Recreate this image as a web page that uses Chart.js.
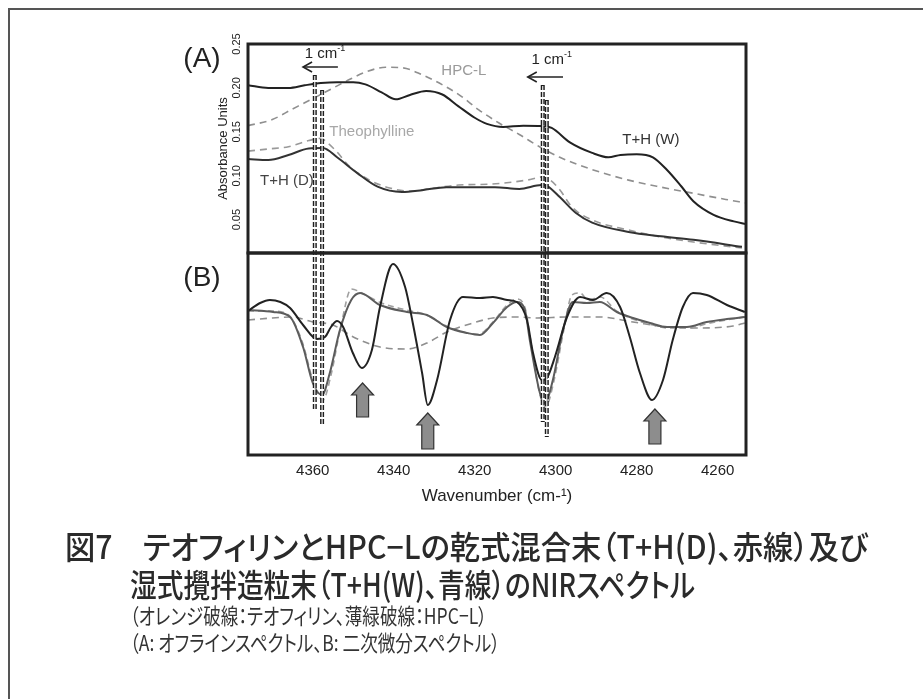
<!DOCTYPE html>
<html lang="ja">
<head>
<meta charset="utf-8">
<title>図7 NIRスペクトル</title>
<script src="https://cdn.jsdelivr.net/npm/chart.js@4.4.1/dist/chart.umd.min.js"></script>
<style>
  html, body { margin: 0; padding: 0; background: #fff; overflow: hidden; }
  #wrap { position: relative; width: 923px; height: 699px; }
  #frame { position: absolute; left: 8px; top: 8px; width: 960px; height: 760px; border: 2px solid #555; }
  #box { position: absolute; left: 0; top: 0; width: 923px; height: 699px; }
  .cap { position: absolute; white-space: nowrap; line-height: 1; color: #2a2a2a;
         font-family: "Noto Sans CJK JP", sans-serif; font-weight: 500;
         font-feature-settings: "palt"; transform-origin: left top; }
  .small { font-weight: 400; color: #333; }
</style>
</head>
<body>
<div id="wrap">
  <div id="frame"></div>
  <div id="box"><canvas id="nir"></canvas></div>
  <div class="cap" id="c1" data-w="803" style="left:65px; top:529px; font-size:32px;">図7　テオフィリンとHPC−Lの乾式混合末（T+H(D)、赤線）及び</div>
  <div class="cap" id="c2" data-w="565" style="left:130px; top:567px; font-size:32px;">湿式攪拌造粒末（T+H(W)、青線）のNIRスペクトル</div>
  <div class="cap small" id="c3" data-w="357" style="left:130px; top:603px; font-size:22px;">（オレンジ破線：テオフィリン、薄緑破線：HPC−L）</div>
  <div class="cap small" id="c4" data-w="370" style="left:130px; top:630px; font-size:22px;">（A: オフラインスペクトル、B: 二次微分スペクトル）</div>
</div>
<script>
'use strict';

// (A) absorbance spectra  [wavenumber, absorbance]
const absTHW = [[4376,0.203],[4371,0.200],[4366,0.200],[4362,0.203],[4358,0.2055],[4354,0.2065],[4350,0.2065],[4347,0.204],[4343,0.195],[4339.5,0.187],[4336,0.192],[4332,0.1965],[4328,0.1925],[4324,0.179],[4320,0.166],[4317,0.159],[4313,0.1555],[4308,0.157],[4303.5,0.1565],[4301,0.1545],[4296.5,0.138],[4291,0.126],[4287,0.121],[4284,0.1236],[4280,0.1245],[4276,0.121],[4272.5,0.1065],[4269,0.088],[4266,0.071],[4261,0.0555],[4256,0.048],[4253,0.045]];
const absTHD = [[4376,0.119],[4371,0.118],[4366,0.1236],[4361,0.131],[4357.5,0.1315],[4354,0.121],[4349,0.103],[4344,0.0875],[4338,0.0815],[4333,0.0835],[4327,0.087],[4321,0.087],[4315,0.087],[4309,0.085],[4303.5,0.0894],[4302,0.088],[4299,0.0757],[4295,0.0575],[4291,0.0465],[4282,0.036],[4274,0.031],[4266,0.027],[4254,0.019]];
const absTheo = [[4376,0.128],[4371,0.1305],[4366,0.133],[4361,0.140],[4358,0.1425],[4356.5,0.138],[4354,0.127],[4351,0.111],[4346,0.095],[4341,0.086],[4336,0.0826],[4330,0.086],[4324,0.0894],[4316,0.0905],[4307,0.0951],[4303.4,0.0985],[4301.4,0.0951],[4299,0.084],[4296,0.0644],[4291,0.0496],[4282,0.0382],[4274,0.0302],[4266,0.0245],[4254,0.0177]];
const absHPC = [[4376,0.157],[4370,0.164],[4365,0.176],[4362,0.183],[4357,0.195],[4352,0.207],[4347,0.218],[4342,0.2235],[4338,0.223],[4333,0.215],[4327,0.201],[4323.5,0.191],[4319,0.175],[4314,0.160],[4309,0.147],[4304,0.133],[4299,0.121],[4291,0.107],[4282,0.095],[4274,0.087],[4266,0.080],[4258,0.073],[4253,0.069]];

// (B) second derivative spectra  [wavenumber, arbitrary units]
const d2THW = [[4376,0.44],[4373,0.52],[4370.6,0.55],[4368,0.53],[4365.6,0.47],[4362.4,0.30],[4359,0.16],[4357,0.18],[4355.5,0.28],[4354,0.34],[4352.5,0.28],[4350.1,0.02],[4347.9,-0.13],[4345.4,0.05],[4343.4,0.48],[4340.2,0.91],[4337.2,0.68],[4335.3,0.32],[4333,-0.18],[4331.6,-0.50],[4329.3,-0.25],[4326.1,0.35],[4322.9,0.58],[4318.7,0.57],[4315.5,0.58],[4312,0.55],[4309.6,0.53],[4307.1,0.35],[4305.6,0.02],[4303.4,-0.25],[4302.2,-0.23],[4300.2,-0.02],[4297.2,0.38],[4294,0.58],[4290.8,0.55],[4287.4,0.62],[4284.1,0.48],[4281.7,0.18],[4279.2,-0.18],[4276.2,-0.45],[4273.5,-0.25],[4271.1,0.15],[4268.6,0.48],[4266.1,0.62],[4262.7,0.60],[4257.7,0.50],[4253.3,0.43]];
const d2THD = [[4376,0.45],[4369.8,0.43],[4365.6,0.38],[4362.4,0.08],[4360,-0.28],[4357.7,-0.40],[4355.8,-0.18],[4353.3,0.25],[4350.5,0.55],[4348.3,0.62],[4343.4,0.50],[4336.7,0.43],[4331.8,0.40],[4326.9,0.28],[4321.9,0.22],[4318.7,0.20],[4315.5,0.32],[4312,0.48],[4309.6,0.53],[4307.6,0.45],[4306.4,0.15],[4303.9,-0.38],[4302.7,-0.48],[4300.7,-0.25],[4298.2,0.25],[4295.8,0.53],[4292.3,0.52],[4289.1,0.53],[4284.9,0.43],[4280.9,0.37],[4276.7,0.32],[4272.5,0.28],[4267.6,0.28],[4262.7,0.33],[4257.7,0.36],[4253.3,0.38]];
const d2Theo = [[4376,0.44],[4370,0.44],[4366,0.40],[4362.5,0.12],[4360,-0.25],[4357.5,-0.45],[4355.5,-0.2],[4353,0.3],[4350.5,0.66],[4347,0.6],[4343,0.52],[4337,0.45],[4332,0.40],[4327,0.29],[4322,0.22],[4319,0.21],[4315.5,0.33],[4312,0.50],[4309.6,0.56],[4307.5,0.46],[4306.2,0.15],[4304,-0.38],[4302.5,-0.52],[4300.5,-0.27],[4298,0.25],[4296,0.6],[4294,0.62],[4292,0.55],[4289,0.58],[4285,0.44],[4281,0.36],[4277,0.31],[4272,0.27],[4267,0.27],[4263,0.31],[4258,0.35],[4253.3,0.38]];
const d2HPC = [[4376,0.35],[4370,0.37],[4365,0.38],[4360,0.33],[4355,0.30],[4350,0.18],[4343.4,0.08],[4336.7,0.06],[4331.8,0.12],[4326.9,0.23],[4320.4,0.32],[4315.5,0.37],[4309.6,0.38],[4304.6,0.37],[4297.2,0.38],[4289.1,0.38],[4280.9,0.33],[4272.5,0.28],[4264.4,0.27],[4256.2,0.29],[4253.3,0.32]];

const xTicks = [4360, 4340, 4320, 4300, 4280, 4260];
const absTicks = [0.05, 0.10, 0.15, 0.20, 0.25];

// peak shift markers: [wavenumber, top (A units), bottom (B units)]
const shiftLines = [[4359.5,0.2147,-0.55],[4357.7,0.1976,-0.70],[4303.2,0.2033,-0.67],[4302.2,0.1862,-0.82]];
// "1 cm-1" notes: [text wn, text abs, arrow tail wn, arrow tip wn, arrow abs]
const shiftNotes = [[4357,0.2386,4353.8,4362.4,0.2238],[4301,0.2318,4298.2,4306.9,0.2124]];
// block arrows in (B): [wn, tip, base]
const upArrows = [[4347.7,-0.28,-0.62],[4331.6,-0.58,-0.94],[4275.5,-0.54,-0.89]];
// curve names in (A): [text, wn, abs, colour]
const curveNames = [['HPC-L',4322.7,0.2193,'#9a9a9a'],['Theophylline',4345.4,0.150,'#a8a8a8'],['T+H (D)',4366.4,0.094,'#444'],['T+H (W)',4276.5,0.1407,'#333']];

const pts = arr => arr.map(([x, y]) => ({x, y}));
const FONT = '"Liberation Sans", Arial, sans-serif';

function series(data, axis, color, width, dash) {
  return {
    data: pts(data), yAxisID: axis, borderColor: color, borderWidth: width,
    borderDash: dash || [], pointRadius: 0, fill: false, cubicInterpolationMode: 'monotone'
  };
}

const panelNotes = {
  id: 'panelNotes',
  afterDatasetsDraw(chart) {
    const {ctx, chartArea: ca, scales: {x, yA, yB}} = chart;
    const seg = (x0, y0, x1, y1) => { ctx.beginPath(); ctx.moveTo(x0, y0); ctx.lineTo(x1, y1); ctx.stroke(); };
    ctx.save();

    // double dashed verticals
    shiftLines.forEach(([wn, t, b]) => {
      const px = x.getPixelForValue(wn);
      const y0 = yA.getPixelForValue(t), y1 = yB.getPixelForValue(b);
      ctx.setLineDash([5, 2]);
      ctx.lineWidth = 4; ctx.strokeStyle = '#1e1e1e';
      seg(px, y0, px, y1);
      ctx.setLineDash([]);
      ctx.lineWidth = 1.1; ctx.strokeStyle = '#fff';
      seg(px, y0 + 1, px, y1 - 1);
    });

    // panel frames
    ctx.lineWidth = 3; ctx.strokeStyle = '#222';
    ctx.strokeRect(ca.left, yA.top, ca.right - ca.left, yA.bottom - yA.top);
    ctx.strokeRect(ca.left, yB.top, ca.right - ca.left, yB.bottom - yB.top);

    // 1 cm-1 with arrow
    ctx.fillStyle = '#222';
    ctx.textBaseline = 'middle';
    shiftNotes.forEach(([tw, tv, from, to, av]) => {
      const cx = x.getPixelForValue(tw), cy = yA.getPixelForValue(tv);
      ctx.font = '15px ' + FONT;
      const w1 = ctx.measureText('1 cm').width;
      ctx.font = '9px ' + FONT;
      const w2 = ctx.measureText('-1').width;
      const sx = cx - (w1 + w2) / 2;
      ctx.textAlign = 'left';
      ctx.font = '15px ' + FONT;
      ctx.fillText('1 cm', sx, cy);
      ctx.font = '9px ' + FONT;
      ctx.fillText('-1', sx + w1, cy - 5);
      const ay = yA.getPixelForValue(av);
      const xa = x.getPixelForValue(from), xb = x.getPixelForValue(to);
      ctx.lineWidth = 1.6; ctx.strokeStyle = '#222';
      seg(xa, ay, xb, ay);
      ctx.beginPath();
      ctx.moveTo(xb + 9, ay - 5); ctx.lineTo(xb, ay); ctx.lineTo(xb + 9, ay + 5);
      ctx.stroke();
    });

    // curve names
    ctx.textAlign = 'center';
    ctx.font = '15px ' + FONT;
    curveNames.forEach(([t, wn, v, c]) => {
      ctx.fillStyle = c;
      ctx.fillText(t, x.getPixelForValue(wn), yA.getPixelForValue(v));
    });

    // block arrows
    upArrows.forEach(([wn, tip, base]) => {
      const cx = x.getPixelForValue(wn);
      const ty = yB.getPixelForValue(tip), by = yB.getPixelForValue(base);
      const hw = 11, sw = 6, hh = 12;
      ctx.beginPath();
      ctx.moveTo(cx, ty);
      ctx.lineTo(cx + hw, ty + hh); ctx.lineTo(cx + sw, ty + hh); ctx.lineTo(cx + sw, by);
      ctx.lineTo(cx - sw, by); ctx.lineTo(cx - sw, ty + hh); ctx.lineTo(cx - hw, ty + hh);
      ctx.closePath();
      ctx.fillStyle = '#8d8d8d'; ctx.fill();
      ctx.lineWidth = 1.2; ctx.strokeStyle = '#333'; ctx.stroke();
    });

    // panel letters
    ctx.fillStyle = '#222';
    ctx.font = '28px ' + FONT;
    ctx.textAlign = 'center';
    ctx.fillText('(A)', ca.left - 46, yA.top + 15);
    ctx.fillText('(B)', ca.left - 46, yB.top + 25);
    ctx.restore();
  }
};

new Chart(document.getElementById('nir'), {
  type: 'line',
  data: {
    datasets: [
      series(absTHW, 'yA', '#222', 2),
      series(absTHD, 'yA', '#333', 2),
      series(absTheo, 'yA', '#999', 1.6, [7, 5]),
      series(absHPC, 'yA', '#8f8f8f', 1.6, [7, 5]),
      series(d2THW, 'yB', '#222', 2),
      series(d2THD, 'yB', '#5c5c5c', 2),
      series(d2Theo, 'yB', '#a0a0a0', 1.6, [6, 4]),
      series(d2HPC, 'yB', '#8f8f8f', 1.6, [7, 5])
    ]
  },
  options: {
    responsive: true,
    maintainAspectRatio: false,
    animation: false,
    events: [],
    layout: { padding: { left: 208, top: 44, right: 177, bottom: 189 } },
    plugins: { legend: { display: false }, tooltip: { enabled: false } },
    scales: {
      x: {
        type: 'linear', reverse: true, min: 4253, max: 4376,
        afterBuildTicks: s => { s.ticks = xTicks.map(v => ({value: v})); },
        afterFit: s => { s.height = 55; },
        grid: { display: false, drawTicks: false },
        border: { display: false },
        ticks: { padding: 7, color: '#222', font: { family: FONT, size: 15 },
                 callback: v => String(v) },
        title: { display: true, text: 'Wavenumber (cm-¹)', color: '#222',
                 font: { family: FONT, size: 17 }, padding: { top: 0, bottom: 3 } }
      },
      yB: {
        type: 'linear', position: 'left', stack: 'panels', stackWeight: 202,
        min: -1, max: 1.02,
        afterFit: s => { s.width = 40; },
        grid: { display: false, drawTicks: false },
        border: { display: false },
        ticks: { display: false }
      },
      yA: {
        type: 'linear', position: 'left', stack: 'panels', stackWeight: 209,
        min: 0.012, max: 0.25,
        afterBuildTicks: s => { s.ticks = absTicks.map(v => ({value: v})); },
        afterFit: s => { s.width = 40; },
        grid: { display: false, drawTicks: false },
        border: { display: false },
        ticks: { minRotation: 90, maxRotation: 90, crossAlign: 'center', padding: 0,
                 color: '#222', font: { family: FONT, size: 11 },
                 callback: v => v.toFixed(2) },
        title: { display: true, text: 'Absorbance Units', color: '#222',
                 font: { family: FONT, size: 13 }, padding: { top: 8, bottom: 0 } }
      }
    }
  },
  plugins: [panelNotes]
});

// squeeze caption lines to the condensed width of the original
document.querySelectorAll('.cap').forEach(el => {
  const w = el.getBoundingClientRect().width;
  el.style.transform = 'scaleX(' + (Number(el.dataset.w) / w) + ')';
});
</script>
</body>
</html>
